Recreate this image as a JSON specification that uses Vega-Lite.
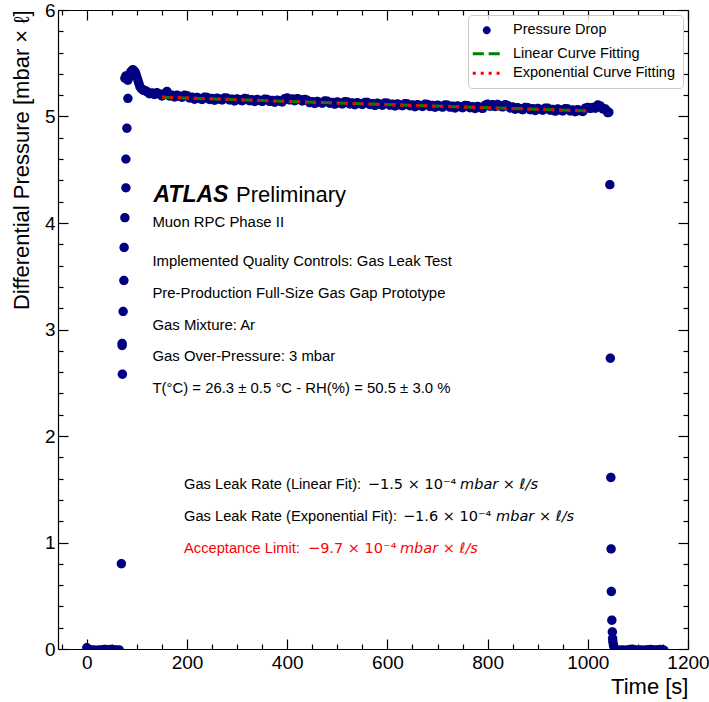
{
  "$schema": "https://vega.github.io/schema/vega-lite/v6.json",
  "width": 630,
  "height": 639,
  "autosize": {"type": "none"},
  "padding": {"left": 58, "top": 10, "right": 21, "bottom": 53},
  "background": "white",
  "config": {
    "view": {"stroke": null},
    "axis": {"grid": false, "domainColor": "black", "tickColor": "black", "labelColor": "black", "titleColor": "black", "labelFont": "Liberation Sans", "titleFont": "Liberation Sans", "labelFontSize": 19, "titleFontSize": 22, "titleFontWeight": "normal", "labelFlush": false, "labelOverlap": false, "labelBound": false, "domainWidth": 1.2, "tickWidth": 1.2},
    "text": {"font": "Liberation Sans"}
  },
  "datasets": {
    "pts": [
      {"t":0,"p":0.012},{"t":2,"p":-0.004},{"t":5,"p":-0.010},{"t":8,"p":-0.012},{"t":11,"p":-0.010},{"t":14,"p":-0.012},{"t":17,"p":-0.011},{"t":20,"p":-0.013},{"t":23,"p":-0.012},{"t":26,"p":-0.010},{"t":29,"p":-0.012},{"t":32,"p":-0.009},{"t":35,"p":-0.005},{"t":38,"p":-0.004},{"t":41,"p":-0.009},{"t":44,"p":-0.011},{"t":47,"p":-0.004},{"t":50,"p":-0.003},{"t":53,"p":-0.006},{"t":56,"p":-0.010},{"t":59,"p":-0.012},{"t":62,"p":-0.011},{"t":65,"p":-0.010},
      {"t":69,"p":0.80},{"t":71,"p":2.58},{"t":70.5,"p":2.85},{"t":70.5,"p":2.87},{"t":72.5,"p":3.17},{"t":74,"p":3.46},{"t":74.5,"p":3.77},{"t":76,"p":4.05},{"t":78,"p":4.33},{"t":78,"p":4.60},{"t":80,"p":4.89},{"t":82,"p":5.17},
      {"t":76,"p":5.36},{"t":78,"p":5.38},{"t":80,"p":5.36},{"t":82,"p":5.34},{"t":84,"p":5.37},{"t":86,"p":5.40},{"t":88,"p":5.42},{"t":90,"p":5.43},{"t":92,"p":5.44},{"t":94,"p":5.43},{"t":96,"p":5.42},{"t":98,"p":5.40},{"t":100,"p":5.37},{"t":102,"p":5.34},{"t":104,"p":5.31},{"t":106,"p":5.28},{"t":109,"p":5.26},{"t":112,"p":5.25},{"t":115,"p":5.245},{"t":118,"p":5.24},
      {"t":120,"p":5.232},{"t":125,"p":5.214},{"t":130,"p":5.222},{"t":135,"p":5.206},{"t":140,"p":5.223},{"t":145,"p":5.212},{"t":150,"p":5.192},{"t":155,"p":5.213},{"t":160,"p":5.235},{"t":165,"p":5.192},{"t":170,"p":5.199},{"t":175,"p":5.182},{"t":180,"p":5.200},{"t":185,"p":5.190},{"t":190,"p":5.180},{"t":195,"p":5.200},{"t":200,"p":5.195},{"t":205,"p":5.174},{"t":210,"p":5.181},{"t":215,"p":5.162},{"t":220,"p":5.179},{"t":225,"p":5.169},{"t":230,"p":5.160},{"t":235,"p":5.181},{"t":240,"p":5.178},{"t":245,"p":5.160},{"t":250,"p":5.169},{"t":255,"p":5.152},{"t":260,"p":5.171},{"t":265,"p":5.163},{"t":270,"p":5.154},{"t":275,"p":5.175},{"t":280,"p":5.172},{"t":285,"p":5.154},{"t":290,"p":5.163},{"t":295,"p":5.146},{"t":300,"p":5.165},{"t":305,"p":5.157},{"t":310,"p":5.148},{"t":315,"p":5.169},{"t":320,"p":5.166},{"t":325,"p":5.148},{"t":330,"p":5.157},{"t":335,"p":5.140},{"t":340,"p":5.159},{"t":345,"p":5.151},{"t":350,"p":5.142},{"t":355,"p":5.163},{"t":360,"p":5.160},{"t":365,"p":5.142},{"t":370,"p":5.151},{"t":375,"p":5.134},{"t":380,"p":5.153},{"t":385,"p":5.145},{"t":390,"p":5.136},{"t":395,"p":5.167},{"t":400,"p":5.174},{"t":405,"p":5.156},{"t":410,"p":5.165},{"t":415,"p":5.148},{"t":420,"p":5.168},{"t":425,"p":5.159},{"t":430,"p":5.145},{"t":435,"p":5.161},{"t":440,"p":5.154},{"t":445,"p":5.130},{"t":450,"p":5.139},{"t":455,"p":5.122},{"t":460,"p":5.142},{"t":465,"p":5.133},{"t":470,"p":5.124},{"t":475,"p":5.145},{"t":480,"p":5.143},{"t":485,"p":5.124},{"t":490,"p":5.133},{"t":495,"p":5.116},{"t":500,"p":5.136},{"t":505,"p":5.127},{"t":510,"p":5.118},{"t":515,"p":5.139},{"t":520,"p":5.137},{"t":525,"p":5.118},{"t":530,"p":5.127},{"t":535,"p":5.110},{"t":540,"p":5.130},{"t":545,"p":5.121},{"t":550,"p":5.112},{"t":555,"p":5.133},{"t":560,"p":5.131},{"t":565,"p":5.112},{"t":570,"p":5.121},{"t":575,"p":5.104},{"t":580,"p":5.124},{"t":585,"p":5.115},{"t":590,"p":5.106},{"t":595,"p":5.127},{"t":600,"p":5.125},{"t":605,"p":5.106},{"t":610,"p":5.115},{"t":615,"p":5.098},{"t":620,"p":5.118},{"t":625,"p":5.109},{"t":630,"p":5.100},{"t":635,"p":5.121},{"t":640,"p":5.119},{"t":645,"p":5.100},{"t":650,"p":5.109},{"t":655,"p":5.092},{"t":660,"p":5.112},{"t":665,"p":5.103},{"t":670,"p":5.094},{"t":675,"p":5.115},{"t":680,"p":5.113},{"t":685,"p":5.094},{"t":690,"p":5.103},{"t":695,"p":5.086},{"t":700,"p":5.106},{"t":705,"p":5.097},{"t":710,"p":5.088},{"t":715,"p":5.109},{"t":720,"p":5.107},{"t":725,"p":5.088},{"t":730,"p":5.097},{"t":735,"p":5.080},{"t":740,"p":5.100},{"t":745,"p":5.091},{"t":750,"p":5.082},{"t":755,"p":5.103},{"t":760,"p":5.101},{"t":765,"p":5.082},{"t":770,"p":5.091},{"t":775,"p":5.074},{"t":780,"p":5.094},{"t":785,"p":5.085},{"t":790,"p":5.076},{"t":795,"p":5.107},{"t":800,"p":5.115},{"t":805,"p":5.096},{"t":810,"p":5.110},{"t":815,"p":5.093},{"t":820,"p":5.113},{"t":825,"p":5.099},{"t":830,"p":5.090},{"t":835,"p":5.111},{"t":840,"p":5.104},{"t":845,"p":5.080},{"t":850,"p":5.089},{"t":855,"p":5.067},{"t":860,"p":5.082},{"t":865,"p":5.073},{"t":870,"p":5.064},{"t":875,"p":5.085},{"t":880,"p":5.083},{"t":885,"p":5.064},{"t":890,"p":5.073},{"t":895,"p":5.056},{"t":900,"p":5.076},{"t":905,"p":5.067},{"t":910,"p":5.058},{"t":915,"p":5.079},{"t":920,"p":5.077},{"t":925,"p":5.058},{"t":930,"p":5.067},{"t":935,"p":5.050},{"t":940,"p":5.070},{"t":945,"p":5.061},{"t":950,"p":5.052},{"t":955,"p":5.073},{"t":960,"p":5.071},{"t":965,"p":5.052},{"t":970,"p":5.061},{"t":975,"p":5.044},{"t":980,"p":5.064},{"t":985,"p":5.055},{"t":990,"p":5.046},{"t":995,"p":5.077},{"t":1000,"p":5.085},{"t":1005,"p":5.076},{"t":1010,"p":5.085},{"t":1015,"p":5.078},{"t":1020,"p":5.108},{"t":1025,"p":5.099},{"t":1030,"p":5.070},{"t":1035,"p":5.071},{"t":1040,"p":5.036},{"t":1042,"p":5.040},
      {"t":1044,"p":4.36},{"t":1045,"p":2.73},{"t":1046,"p":1.61},{"t":1046.5,"p":0.94},{"t":1047,"p":0.54},{"t":1048,"p":0.27},{"t":1049,"p":0.16},{"t":1049.5,"p":0.10},{"t":1050,"p":0.07},{"t":1051,"p":0.04},{"t":1052,"p":0.02},{"t":1054,"p":0.005},
      {"t":1057,"p":-0.008},{"t":1061,"p":-0.011},{"t":1065,"p":-0.012},{"t":1069,"p":-0.010},{"t":1073,"p":-0.012},{"t":1077,"p":-0.011},{"t":1081,"p":-0.008},{"t":1085,"p":-0.004},{"t":1089,"p":-0.002},{"t":1093,"p":-0.006},{"t":1097,"p":-0.011},{"t":1101,"p":-0.012},{"t":1105,"p":-0.010},{"t":1109,"p":-0.012},{"t":1113,"p":-0.011},{"t":1117,"p":-0.009},{"t":1121,"p":-0.006},{"t":1125,"p":-0.004},{"t":1129,"p":-0.007},{"t":1133,"p":-0.011},{"t":1137,"p":-0.010},{"t":1141,"p":-0.008},{"t":1145,"p":-0.005},{"t":1149,"p":-0.006},{"t":1152,"p":-0.011}
    ],
    "lin": [{"t":150,"p":5.18},{"t":1000,"p":5.0525}],
    "expfit": [{"t":150,"p":5.183},{"t":300,"p":5.158},{"t":450,"p":5.134},{"t":600,"p":5.111},{"t":750,"p":5.089},{"t":900,"p":5.067},{"t":1000,"p":5.052}],
    "atlas": [{"x":133,"y":4.2,"text":"ATLAS"}],
    "prelim": [{"x":298,"y":4.2,"text":"Preliminary"}],
    "info": [
      {"x":131,"y":3.96,"text":"Muon RPC Phase II"},
      {"x":131,"y":3.6,"text":"Implemented Quality Controls: Gas Leak Test"},
      {"x":131,"y":3.3,"text":"Pre-Production Full-Size Gas Gap Prototype"},
      {"x":131,"y":3.0,"text":"Gas Mixture: Ar"},
      {"x":131,"y":2.7,"text":"Gas Over-Pressure: 3 mbar"},
      {"x":131,"y":2.4,"text":"T(°C) = 26.3 ± 0.5 °C - RH(%) = 50.5 ± 3.0 %"}
    ],
    "fitpre": [
      {"x":194,"y":1.5,"text":"Gas Leak Rate (Linear Fit):","kind":"fit"},
      {"x":194,"y":1.2,"text":"Gas Leak Rate (Exponential Fit):","kind":"fit"},
      {"x":194,"y":0.9,"text":"Acceptance Limit:","kind":"limit"}
    ],
    "fitnum": [
      {"x":561,"y":1.5,"text":"−1.5 × 10⁻⁴","kind":"fit"},
      {"x":631,"y":1.2,"text":"−1.6 × 10⁻⁴","kind":"fit"},
      {"x":441.5,"y":0.9,"text":"−9.7 × 10⁻⁴","kind":"limit"}
    ],
    "fitunit": [
      {"x":745,"y":1.5,"text":"mbar × ℓ/s","kind":"fit"},
      {"x":817,"y":1.2,"text":"mbar × ℓ/s","kind":"fit"},
      {"x":625,"y":0.9,"text":"mbar × ℓ/s","kind":"limit"}
    ]
  },
  "layer": [
    {
      "data": {"name": "pts"},
      "mark": {"type": "point", "filled": true, "size": 122, "opacity": 1, "strokeWidth": 0, "clip": true},
      "encoding": {
        "x": {"field": "t", "type": "quantitative", "scale": {"domain": [-57.5, 1200], "nice": false, "zero": false},
          "axis": {"orient": "bottom", "values": [0,200,400,600,800,1000,1200], "format": "d", "ticks": false, "labelPadding": 4.5, "title": "Time [s]", "titleAnchor": "end", "titlePadding": 4}},
        "y": {"field": "p", "type": "quantitative", "scale": {"domain": [0, 6], "nice": false, "zero": false},
          "axis": {"orient": "left", "values": [0,1,2,3,4,5,6], "format": "d", "ticks": false, "labelPadding": 3, "title": "Differential Pressure [mbar × ℓ]", "titleAnchor": "end", "titlePadding": 11}},
        "fill": {"datum": "Pressure Drop", "type": "nominal",
          "scale": {"domain": ["Pressure Drop", "Linear Curve Fitting", "Exponential Curve Fitting"], "range": ["#000080", "transparent", "transparent"]},
          "legend": {"title": null, "orient": "top-right", "offset": 5, "fillColor": "rgba(255,255,255,0.8)", "strokeColor": "#cccccc", "cornerRadius": 4, "padding": 8,
            "labelFont": "Liberation Sans", "labelFontSize": 14.5, "labelColor": "black", "labelLimit": 400, "labelOffset": 19, "symbolOffset": 3.5, "symbolSize": 87, "symbolStrokeWidth": 3, "rowPadding": 4.5}},
        "shape": {"datum": "Pressure Drop", "type": "nominal",
          "scale": {"domain": ["Pressure Drop", "Linear Curve Fitting", "Exponential Curve Fitting"], "range": ["M0.85,0A0.85,0.85,0,1,1,-0.85,0A0.85,0.85,0,1,1,0.85,0Z", "M-3,0H3", "M-3,0H3"]},
          "legend": {"title": null}}
      }
    },
    {
      "data": {"name": "lin"},
      "mark": {"type": "line", "strokeWidth": 3, "strokeCap": "butt", "clip": true},
      "encoding": {
        "x": {"field": "t", "type": "quantitative",
          "axis": {"orient": "top", "values": [0,200,400,600,800,1000,1200], "labels": false, "title": null, "tickSize": -10}},
        "y": {"field": "p", "type": "quantitative",
          "axis": {"orient": "right", "values": [0,1,2,3,4,5,6], "labels": false, "title": null, "tickSize": -10}},
        "stroke": {"datum": "Linear Curve Fitting", "type": "nominal",
          "scale": {"domain": ["Pressure Drop", "Linear Curve Fitting", "Exponential Curve Fitting"], "range": ["transparent", "#008000", "#ff0000"]},
          "legend": {"title": null}},
        "strokeDash": {"datum": "Linear Curve Fitting", "type": "nominal",
          "scale": {"domain": ["Pressure Drop", "Linear Curve Fitting", "Exponential Curve Fitting"], "range": [[1, 0], [11.1, 4.8], [3, 4.95]]},
          "legend": {"title": null}}
      }
    },
    {
      "data": {"name": "expfit"},
      "mark": {"type": "line", "strokeWidth": 3, "strokeCap": "butt", "clip": true},
      "encoding": {
        "x": {"field": "t", "type": "quantitative",
          "axis": {"orient": "bottom", "values": [0,200,400,600,800,1000,1200], "labels": false, "title": null, "domain": false, "tickSize": -10}},
        "y": {"field": "p", "type": "quantitative",
          "axis": {"orient": "left", "values": [0,1,2,3,4,5,6], "labels": false, "title": null, "domain": false, "tickSize": -10}},
        "stroke": {"datum": "Exponential Curve Fitting", "type": "nominal"},
        "strokeDash": {"datum": "Exponential Curve Fitting", "type": "nominal"}
      }
    },
    {
      "data": {"name": "atlas"},
      "mark": {"type": "text", "align": "left", "baseline": "alphabetic", "font": "Liberation Sans", "fontSize": 23, "fontStyle": "italic", "fontWeight": "bold", "color": "black"},
      "encoding": {
        "x": {"field": "x", "type": "quantitative",
          "axis": {"orient": "bottom", "values": [-50,50,100,150,250,300,350,450,500,550,650,700,750,850,900,950,1050,1100,1150], "labels": false, "title": null, "domain": false, "tickSize": -5}},
        "y": {"field": "y", "type": "quantitative",
          "axis": {"orient": "left", "values": [0.2,0.4,0.6,0.8,1.2,1.4,1.6,1.8,2.2,2.4,2.6,2.8,3.2,3.4,3.6,3.8,4.2,4.4,4.6,4.8,5.2,5.4,5.6,5.8], "labels": false, "title": null, "domain": false, "tickSize": -5}},
        "text": {"field": "text"}}
    },
    {
      "data": {"name": "prelim"},
      "mark": {"type": "text", "align": "left", "baseline": "alphabetic", "font": "Liberation Sans", "fontSize": 22, "color": "black"},
      "encoding": {
        "x": {"field": "x", "type": "quantitative",
          "axis": {"orient": "top", "values": [-50,50,100,150,250,300,350,450,500,550,650,700,750,850,900,950,1050,1100,1150], "labels": false, "title": null, "domain": false, "tickSize": -5}},
        "y": {"field": "y", "type": "quantitative",
          "axis": {"orient": "right", "values": [0.2,0.4,0.6,0.8,1.2,1.4,1.6,1.8,2.2,2.4,2.6,2.8,3.2,3.4,3.6,3.8,4.2,4.4,4.6,4.8,5.2,5.4,5.6,5.8], "labels": false, "title": null, "domain": false, "tickSize": -5}},
        "text": {"field": "text"}}
    },
    {
      "data": {"name": "info"},
      "mark": {"type": "text", "align": "left", "baseline": "alphabetic", "font": "Liberation Sans", "fontSize": 14.9, "color": "black"},
      "encoding": {"x": {"field": "x", "type": "quantitative", "axis": null}, "y": {"field": "y", "type": "quantitative", "axis": null}, "text": {"field": "text"}}
    },
    {
      "data": {"name": "fitpre"},
      "mark": {"type": "text", "align": "left", "baseline": "alphabetic", "font": "Liberation Sans", "fontSize": 14.7},
      "encoding": {"x": {"field": "x", "type": "quantitative", "axis": null}, "y": {"field": "y", "type": "quantitative", "axis": null}, "text": {"field": "text"},
        "color": {"condition": {"test": "datum.kind === 'limit'", "value": "#ff0000"}, "value": "black"}}
    },
    {
      "data": {"name": "fitnum"},
      "mark": {"type": "text", "align": "left", "baseline": "alphabetic", "font": "DejaVu Sans", "fontSize": 14.5},
      "encoding": {"x": {"field": "x", "type": "quantitative", "axis": null}, "y": {"field": "y", "type": "quantitative", "axis": null}, "text": {"field": "text"},
        "color": {"condition": {"test": "datum.kind === 'limit'", "value": "#ff0000"}, "value": "black"}}
    },
    {
      "data": {"name": "fitunit"},
      "mark": {"type": "text", "align": "left", "baseline": "alphabetic", "font": "DejaVu Sans", "fontSize": 14.5, "fontStyle": "italic"},
      "encoding": {"x": {"field": "x", "type": "quantitative", "axis": null}, "y": {"field": "y", "type": "quantitative", "axis": null}, "text": {"field": "text"},
        "color": {"condition": {"test": "datum.kind === 'limit'", "value": "#ff0000"}, "value": "black"}}
    }
  ],
  "resolve": {"axis": {"x": "independent", "y": "independent"}}
}
